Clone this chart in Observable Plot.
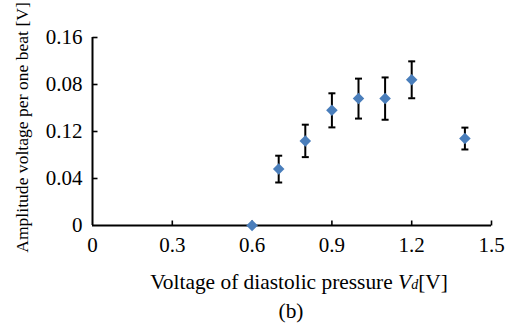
<!DOCTYPE html>
<html>
<head>
<meta charset="utf-8">
<script src="https://cdn.jsdelivr.net/npm/d3@7"></script>
<script src="https://cdn.jsdelivr.net/npm/@observablehq/plot@0.6"></script>
<style>
  html, body { margin: 0; padding: 0; background: #fff; }
  svg, svg text, svg tspan { font-family: "Liberation Serif", "DejaVu Serif", serif !important; font-variant-numeric: normal !important; }
</style>
</head>
<body>
<div id="chart"></div>
<script>
const xVals = [0.6, 0.7, 0.8, 0.9, 1.0, 1.1, 1.2, 1.4];
const yVals = [0, 0.048, 0.072, 0.098, 0.108, 0.108, 0.124, 0.074];
const yErr  = [0, 0.0114, 0.0138, 0.0145, 0.017, 0.018, 0.0157, 0.0093];
const xTicks = [0, 0.3, 0.6, 0.9, 1.2, 1.5];
const xTickLabels = ["0", "0.3", "0.6", "0.9", "1.2", "1.5"];
const yTicks = [0, 0.04, 0.08, 0.12, 0.16];
const yTickLabels = ["0", "0.04", "0.12", "0.08", "0.16"];
const xTitle = "Voltage of diastolic pressure Vd[V]";
const yTitle = "Amplitude voltage per one beat [V]";
const subLabel = "(b)";

const data = xVals.map((x, i) => ({x, y: yVals[i], e: yErr[i]}));
const errData = data.filter(d => d.e > 0);

const capSymbol = {draw(ctx, size) { const w = Math.sqrt(size / Math.PI); ctx.moveTo(-w, 0); ctx.lineTo(w, 0); }};
const tickUp = {draw(ctx, size) { const w = Math.sqrt(size / Math.PI); ctx.moveTo(0, 0); ctx.lineTo(0, -w); }};
const tickRight = {draw(ctx, size) { const w = Math.sqrt(size / Math.PI); ctx.moveTo(0, 0); ctx.lineTo(w, 0); }};

const ff = "Liberation Serif";
const fsTick = 21;
const fsX = 21.4;
const fsY = 17.6;
const chart = Plot.plot({
  width: 516,
  height: 326,
  marginLeft: 92,
  marginRight: 25,
  marginTop: 37,
  marginBottom: 101,
  style: {fontFamily: ff, fontSize: fsTick + "px", background: "#fff", overflow: "visible"},
  x: {domain: [0, 1.5]},
  y: {domain: [0, 0.16]},
  marks: [
    Plot.axisX({ticks: xTicks, tickFormat: (d, i) => xTickLabels[i], tickSize: 0, tickPadding: 12, label: null, fontSize: fsTick, fontFamily: ff, fill: "#000"}),
    Plot.axisY({ticks: yTicks, tickFormat: (d, i) => yTickLabels[i], tickSize: 0, tickPadding: 10, label: null, fontSize: fsTick, fontFamily: ff, fill: "#000"}),
    Plot.dot(xTicks.slice(1), {x: d => d, y: 0, symbol: tickUp, r: 5, stroke: "#000", strokeWidth: 1.6, fill: "none"}),
    Plot.dot(yTicks.slice(1), {x: 0, y: d => d, symbol: tickRight, r: 5, stroke: "#000", strokeWidth: 1.6, fill: "none"}),
    Plot.ruleY([0], {stroke: "#000", strokeWidth: 2}),
    Plot.ruleX([0], {stroke: "#000", strokeWidth: 2}),
    Plot.ruleX(errData, {x: "x", y1: d => d.y - d.e, y2: d => d.y + d.e, stroke: "#000", strokeWidth: 2}),
    Plot.dot(errData, {x: "x", y: d => d.y - d.e, symbol: capSymbol, r: 3.5, stroke: "#000", strokeWidth: 2, fill: "none"}),
    Plot.dot(errData, {x: "x", y: d => d.y + d.e, symbol: capSymbol, r: 3.5, stroke: "#000", strokeWidth: 2, fill: "none"}),
    Plot.dot(data, {x: "x", y: "y", symbol: "diamond2", r: 5.2, fill: "#4a7ebb", stroke: "none"}),
    Plot.text([xTitle], {frameAnchor: "bottom", dy: 57, dx: 7, fontSize: fsX, fontFamily: ff, fill: "#000", lineAnchor: "middle", textAnchor: "middle", className: "xtitle"}),
    Plot.text([subLabel], {frameAnchor: "bottom", dy: 86, dx: -1, fontSize: fsX, fontFamily: ff, fill: "#000", lineAnchor: "middle", textAnchor: "middle"}),
    Plot.text([yTitle], {frameAnchor: "left", dx: -70, dy: -4, rotate: -90, fontSize: fsY, fontFamily: ff, fill: "#000", lineAnchor: "middle", textAnchor: "middle"})
  ]
});
document.getElementById("chart").appendChild(chart);
// italic V with subscript d in the x title
const t = chart.querySelector(".xtitle text");
if (t) {
  t.textContent = "";
  const ns = "http://www.w3.org/2000/svg";
  const parts = [["Voltage of diastolic pressure ", {}], ["V", {"font-style": "italic"}], ["d", {"font-size": "14px", "font-style": "italic"}], ["[V]", {}]];
  for (const [s, attrs] of parts) {
    const ts = document.createElementNS(ns, "tspan");
    ts.textContent = s;
    for (const k in attrs) ts.setAttribute(k, attrs[k]);
    t.appendChild(ts);
  }
}
</script>
</body>
</html>
